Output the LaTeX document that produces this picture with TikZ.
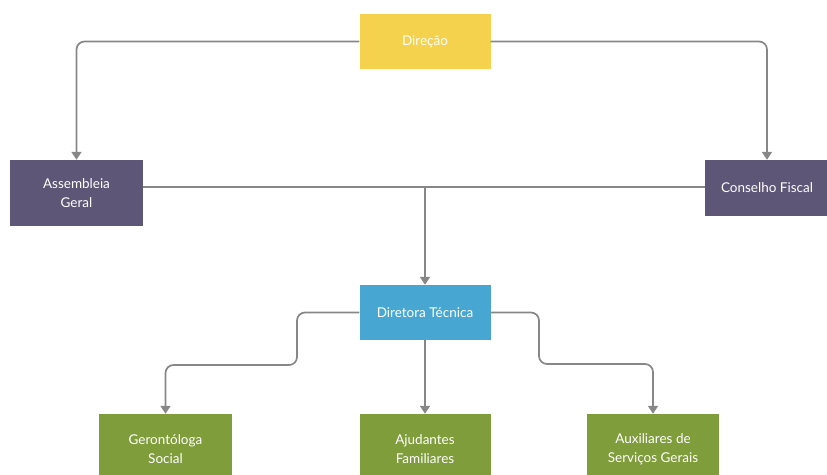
\documentclass[tikz,border=0pt]{standalone}
\usepackage{fontspec}
\setmainfont{Lato}
\usetikzlibrary{arrows.meta}
\definecolor{amarelo}{HTML}{F4D24E}
\definecolor{roxo}{HTML}{5D5677}
\definecolor{azul}{HTML}{48A7D2}
\definecolor{verde}{HTML}{7F9D3B}
\definecolor{linha}{HTML}{878787}

\begin{document}
\begin{tikzpicture}[x=1pt,y=-1pt,
  caixa/.style={minimum width=131pt,minimum height=55pt,align=center,
    text=white,inner sep=2pt,font=\fontsize{13.5}{19}\selectfont},
  liga/.style={draw=linha,line width=1.7pt,rounded corners=8pt},
  seta/.style={liga,-{Triangle[width=10pt,length=8pt]}}]
  \useasboundingbox (0,0) rectangle (827,474);
  \node[caixa,fill=amarelo] (direcao) at (425,41.5) {Direção};
  \node[caixa,fill=roxo,minimum width=133pt,minimum height=66pt] (assembleia) at (76.5,193) {Assembleia\\Geral};
  \node[caixa,fill=roxo,minimum width=124pt,minimum height=56pt] (conselho) at (767,188) {Conselho Fiscal};
  \node[caixa,fill=azul] (diretora) at (425,312.5) {Diretora Técnica};
  \node[caixa,fill=verde,minimum width=133pt,minimum height=70pt] (geronto) at (165.5,449) {Gerontóloga\\Social};
  \node[caixa,fill=verde,minimum width=131pt,minimum height=70pt] (ajudantes) at (425,449) {Ajudantes\\Familiares};
  \node[caixa,fill=verde,minimum width=132pt,minimum height=70pt] (auxiliares) at (653,449) {Auxiliares de\\Serviços Gerais};
  \coordinate (meio) at (425,187);
  \coordinate (dobraE) at (297,365);
  \coordinate (dobraD) at (539,364);
  \draw[seta] (direcao.west) -| (assembleia.north);
  \draw[seta] (direcao.east) -| (conselho.north);
  \draw[liga] (assembleia.east |- meio) -- (conselho.west |- meio);
  \draw[seta] (meio) -- (diretora.north);
  \draw[seta] (diretora.west) -| (dobraE) -| (geronto.north);
  \draw[seta] (diretora.south) -- (ajudantes.north);
  \draw[seta] (diretora.east) -| (dobraD) -| (auxiliares.north);
\end{tikzpicture}
\end{document}
